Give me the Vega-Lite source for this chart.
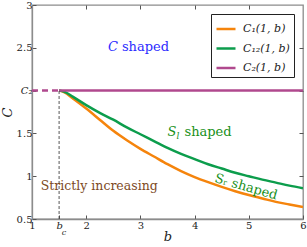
{
  "$schema": "https://vega.github.io/schema/vega-lite/v6.json",
  "width": 271,
  "height": 214,
  "autosize": {"type": "none"},
  "padding": {"left": 32, "top": 5, "right": 4, "bottom": 28},
  "background": "white",
  "config": {
    "view": {"stroke": "#8c8c8c", "strokeWidth": 1.3},
    "font": "DejaVu Serif",
    "axis": {"labelFont": "DejaVu Serif", "titleFont": "DejaVu Serif", "labelColor": "#222", "titleColor": "#222", "domainColor": "#8c8c8c", "domainWidth": 1.3, "tickColor": "#555", "tickSize": -4, "grid": false, "labelFontSize": 10, "titleFontSize": 13, "titleFontWeight": "normal"}
  },
  "resolve": {"axis": {"x": "independent", "y": "independent"}},
  "layer": [
    {
      "data": {"values": [
        {"b": 1.5, "C": 2.0, "s": "C1"}, {"b": 1.6, "C": 1.98, "s": "C1"}, {"b": 1.75, "C": 1.91, "s": "C1"}, {"b": 2.0, "C": 1.79, "s": "C1"}, {"b": 2.25, "C": 1.66, "s": "C1"}, {"b": 2.5, "C": 1.53, "s": "C1"}, {"b": 2.75, "C": 1.42, "s": "C1"}, {"b": 3.0, "C": 1.32, "s": "C1"}, {"b": 3.25, "C": 1.23, "s": "C1"}, {"b": 3.5, "C": 1.14, "s": "C1"}, {"b": 3.75, "C": 1.06, "s": "C1"}, {"b": 4.0, "C": 0.99, "s": "C1"}, {"b": 4.25, "C": 0.93, "s": "C1"}, {"b": 4.5, "C": 0.875, "s": "C1"}, {"b": 4.75, "C": 0.825, "s": "C1"}, {"b": 5.0, "C": 0.78, "s": "C1"}, {"b": 5.25, "C": 0.74, "s": "C1"}, {"b": 5.5, "C": 0.70, "s": "C1"}, {"b": 5.75, "C": 0.67, "s": "C1"}, {"b": 6.0, "C": 0.64, "s": "C1"},
        {"b": 1.5, "C": 2.0, "s": "C12"}, {"b": 1.6, "C": 1.985, "s": "C12"}, {"b": 1.75, "C": 1.93, "s": "C12"}, {"b": 2.0, "C": 1.83, "s": "C12"}, {"b": 2.25, "C": 1.74, "s": "C12"}, {"b": 2.5, "C": 1.66, "s": "C12"}, {"b": 2.75, "C": 1.57, "s": "C12"}, {"b": 3.0, "C": 1.49, "s": "C12"}, {"b": 3.25, "C": 1.41, "s": "C12"}, {"b": 3.5, "C": 1.33, "s": "C12"}, {"b": 3.75, "C": 1.26, "s": "C12"}, {"b": 4.0, "C": 1.20, "s": "C12"}, {"b": 4.25, "C": 1.14, "s": "C12"}, {"b": 4.5, "C": 1.09, "s": "C12"}, {"b": 4.75, "C": 1.04, "s": "C12"}, {"b": 5.0, "C": 1.00, "s": "C12"}, {"b": 5.25, "C": 0.96, "s": "C12"}, {"b": 5.5, "C": 0.925, "s": "C12"}, {"b": 5.75, "C": 0.89, "s": "C12"}, {"b": 6.0, "C": 0.86, "s": "C12"},
        {"b": 1.5, "C": 2.0, "s": "C2"}, {"b": 6.0, "C": 2.0, "s": "C2"}
      ]},
      "mark": {"type": "line", "strokeWidth": 2.5, "clip": true, "interpolate": "monotone"},
      "encoding": {
        "x": {"field": "b", "type": "quantitative", "scale": {"domain": [1, 6], "nice": false, "zero": false}, "title": "b",
          "axis": {"orient": "bottom", "values": [1, 1.5, 2, 3, 4, 5, 6], "format": "~g", "labelExpr": "datum.value == 1.5 ? 'b' : datum.label", "labelFontStyle": {"condition": {"test": "datum.value == 1.5", "value": "italic"}, "value": "normal"}, "titleFontStyle": "italic", "titlePadding": 0, "labelPadding": 5, "labelFlush": false}},
        "y": {"field": "C", "type": "quantitative", "scale": {"domain": [0.5, 3], "nice": false, "zero": false}, "title": "C",
          "axis": {"orient": "left", "values": [0.5, 1, 1.5, 2, 2.5, 3], "format": "~g", "labelExpr": "datum.value == 2 ? 'C₂' : datum.label", "labelFontStyle": {"condition": {"test": "datum.value == 2", "value": "italic"}, "value": "normal"}, "titleFontStyle": "italic", "titlePadding": 2, "labelPadding": 4, "labelFlush": false}},
        "color": {"field": "s", "type": "nominal", "scale": {"domain": ["C1", "C12", "C2"], "range": ["#f5840c", "#0c9d4c", "#b0498e"]},
          "legend": {"orient": "none", "legendX": 179, "legendY": 9, "title": null, "labelExpr": "datum.value == 'C1' ? 'C₁(1, b)' : datum.value == 'C12' ? 'C₁₂(1, b)' : 'C₂(1, b)'", "labelFont": "DejaVu Serif", "labelFontStyle": "italic", "labelFontSize": 11, "labelColor": "#222", "symbolType": "stroke", "symbolStrokeWidth": 2.5, "symbolSize": 361, "strokeColor": "#222", "fillColor": "white", "padding": 4, "rowPadding": 3.5, "labelOffset": 6}}
      }
    },
    {
      "data": {"values": [{"b": 1.0, "C": 2.0}, {"b": 1.5, "C": 2.0}]},
      "mark": {"type": "line", "strokeWidth": 2.5, "color": "#b0498e", "strokeDash": [6, 4]},
      "encoding": {
        "x": {"field": "b", "type": "quantitative", "axis": {"orient": "top", "values": [2, 3, 4, 5], "labels": false, "title": null, "domain": false}},
        "y": {"field": "C", "type": "quantitative", "axis": {"orient": "right", "values": [1, 1.5, 2, 2.5], "labels": false, "title": null, "domain": false}}
      }
    },
    {
      "data": {"values": [{"b": 1.5, "lo": 0.5, "hi": 2.0}]},
      "mark": {"type": "rule", "strokeDash": [3, 2], "strokeWidth": 0.9, "color": "#444"},
      "encoding": {
        "x": {"field": "b", "type": "quantitative", "axis": null},
        "y": {"field": "lo", "type": "quantitative", "axis": null},
        "y2": {"field": "hi"}
      }
    },
    {
      "data": {"values": [{"t": "c", "b": 1.5, "C": 0.5}]},
      "mark": {"type": "text", "fontSize": 8, "fontStyle": "italic", "dx": 5, "dy": 14, "color": "#222", "font": "DejaVu Serif"},
      "encoding": {
        "x": {"field": "b", "type": "quantitative", "axis": null},
        "y": {"field": "C", "type": "quantitative", "axis": null},
        "text": {"field": "t"}
      }
    },
    {
      "data": {"values": [{"t": "C", "b": 2.4, "C": 2.51}]},
      "mark": {"type": "text", "fontSize": 13, "fontStyle": "italic", "align": "left", "baseline": "middle", "color": "#2b2bff", "font": "DejaVu Serif"},
      "encoding": {
        "x": {"field": "b", "type": "quantitative", "axis": null},
        "y": {"field": "C", "type": "quantitative", "axis": null},
        "text": {"field": "t"}
      }
    },
    {
      "data": {"values": [{"t": "shaped", "b": 2.4, "C": 2.51}]},
      "mark": {"type": "text", "fontSize": 13, "align": "left", "baseline": "middle", "dx": 14, "color": "#2b2bff", "font": "DejaVu Serif"},
      "encoding": {
        "x": {"field": "b", "type": "quantitative", "axis": null},
        "y": {"field": "C", "type": "quantitative", "axis": null},
        "text": {"field": "t"}
      }
    },
    {
      "data": {"values": [{"t": "S", "b": 3.5, "C": 1.52}]},
      "mark": {"type": "text", "fontSize": 13, "fontStyle": "italic", "align": "left", "baseline": "middle", "color": "#199019", "font": "DejaVu Serif"},
      "encoding": {
        "x": {"field": "b", "type": "quantitative", "axis": null},
        "y": {"field": "C", "type": "quantitative", "axis": null},
        "text": {"field": "t"}
      }
    },
    {
      "data": {"values": [{"t": "l", "b": 3.5, "C": 1.52}]},
      "mark": {"type": "text", "fontSize": 9, "fontStyle": "italic", "align": "left", "baseline": "middle", "dx": 9, "dy": 4, "color": "#199019", "font": "DejaVu Serif"},
      "encoding": {
        "x": {"field": "b", "type": "quantitative", "axis": null},
        "y": {"field": "C", "type": "quantitative", "axis": null},
        "text": {"field": "t"}
      }
    },
    {
      "data": {"values": [{"t": "shaped", "b": 3.5, "C": 1.52}]},
      "mark": {"type": "text", "fontSize": 13, "align": "left", "baseline": "middle", "dx": 17, "color": "#199019", "font": "DejaVu Serif"},
      "encoding": {
        "x": {"field": "b", "type": "quantitative", "axis": null},
        "y": {"field": "C", "type": "quantitative", "axis": null},
        "text": {"field": "t"}
      }
    },
    {
      "data": {"values": [{"t": "Sᵣ shaped", "b": 4.95, "C": 0.875}]},
      "mark": {"type": "text", "fontSize": 13, "angle": 16, "align": "center", "baseline": "middle", "color": "#199019", "font": "DejaVu Serif"},
      "encoding": {
        "x": {"field": "b", "type": "quantitative", "axis": null},
        "y": {"field": "C", "type": "quantitative", "axis": null},
        "text": {"field": "t"}
      }
    },
    {
      "data": {"values": [{"t": "Strictly increasing", "b": 2.24, "C": 0.89}]},
      "mark": {"type": "text", "fontSize": 12.5, "align": "center", "baseline": "middle", "color": "#7d4a1e", "font": "DejaVu Serif"},
      "encoding": {
        "x": {"field": "b", "type": "quantitative", "axis": null},
        "y": {"field": "C", "type": "quantitative", "axis": null},
        "text": {"field": "t"}
      }
    }
  ]
}
